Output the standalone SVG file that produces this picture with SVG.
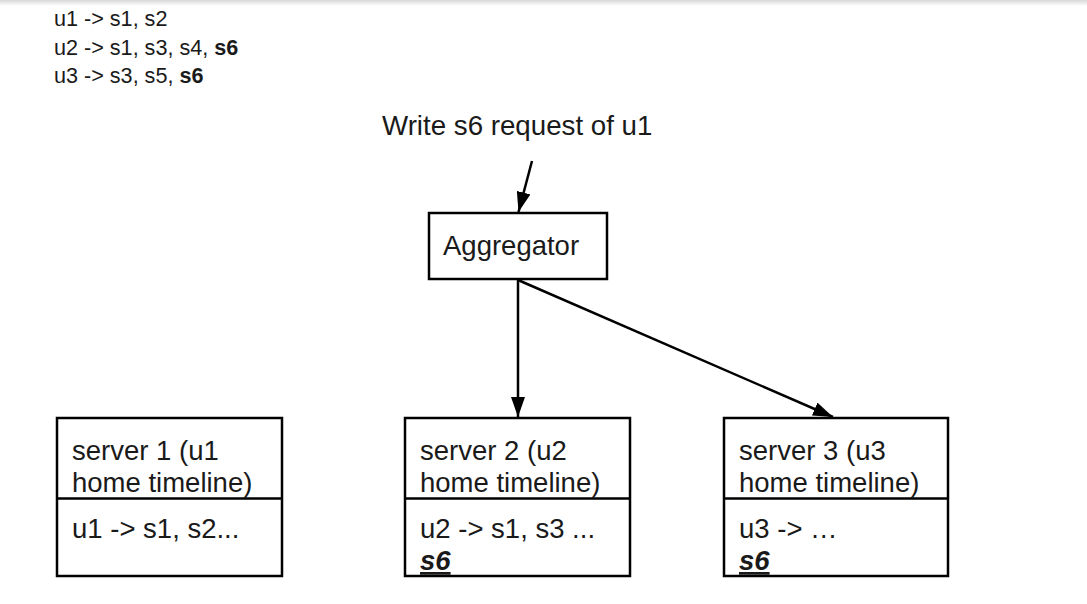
<svg xmlns="http://www.w3.org/2000/svg" width="1087" height="604" viewBox="0 0 1087 604">
<defs>
<linearGradient id="shadow" x1="0" y1="0" x2="0" y2="1">
<stop offset="0" stop-color="#d8d8d8"/>
<stop offset="1" stop-color="#ffffff"/>
</linearGradient>
<marker id="arrow" viewBox="0 0 20 14" refX="20" refY="7" markerWidth="20" markerHeight="14" markerUnits="userSpaceOnUse" orient="auto">
<path d="M0,0 L20,7 L0,14 Z" fill="#000"/>
</marker>
<style>
text{font-family:"Liberation Sans",Arial,sans-serif;fill:#1a1a1a;}
.top{font-size:21.6px;}
.lbl{font-size:27.5px;}
.box{fill:#fff;stroke:#000;stroke-width:2.5;}
.div{stroke:#000;stroke-width:2.5;}
.conn{stroke:#000;stroke-width:2.5;fill:none;}
.b{font-weight:bold;}
.bi{font-weight:bold;font-style:italic;text-decoration:underline;}
</style>
</defs>
<rect x="0" y="0" width="1087" height="604" fill="#fff"/>
<rect x="0" y="0" width="1087" height="6" fill="url(#shadow)"/>
<g id="notes">
<text class="top" x="54" y="26">u1 -&gt; s1, s2</text>
<text class="top" x="54" y="54.5">u2 -&gt; s1, s3, s4, <tspan class="b">s6</tspan></text>
<text class="top" x="54" y="83">u3 -&gt; s3, s5, <tspan class="b">s6</tspan></text>
</g>
<g id="request">
<text class="lbl" x="382" y="135" style="font-size:27.7px">Write s6 request of u1</text>
</g>
<g id="aggregator">
<rect class="box" x="429" y="213" width="178" height="66"/>
<text class="lbl" x="443" y="255">Aggregator</text>
</g>
<g id="server1">
<rect class="box" x="57" y="418" width="225" height="158"/>
<line class="div" x1="57" y1="498.5" x2="282" y2="498.5"/>
<text class="lbl" x="72" y="460">server 1 (u1</text>
<text class="lbl" x="72" y="492">home timeline)</text>
<text class="lbl" x="72" y="538">u1 -&gt; s1, s2...</text>
</g>
<g id="server2">
<rect class="box" x="405" y="418" width="225" height="158"/>
<line class="div" x1="405" y1="498.5" x2="630" y2="498.5"/>
<text class="lbl" x="420" y="460">server 2 (u2</text>
<text class="lbl" x="420" y="492">home timeline)</text>
<text class="lbl" x="420" y="538">u2 -&gt; s1, s3 ...</text>
<text class="lbl bi" x="420" y="570">s6</text>
</g>
<g id="server3">
<rect class="box" x="724" y="418" width="224" height="158"/>
<line class="div" x1="724" y1="498.5" x2="948" y2="498.5"/>
<text class="lbl" x="739" y="460">server 3 (u3</text>
<text class="lbl" x="739" y="492">home timeline)</text>
<text class="lbl" x="739" y="538">u3 -&gt; …</text>
<text class="lbl bi" x="739" y="570">s6</text>
</g>
<g id="connectors">
<line class="conn" x1="532" y1="161" x2="518.5" y2="212" marker-end="url(#arrow)"/>
<line class="conn" x1="518" y1="280" x2="518" y2="417" marker-end="url(#arrow)"/>
<line class="conn" x1="518" y1="280" x2="833" y2="417" marker-end="url(#arrow)"/>
</g>
</svg>
